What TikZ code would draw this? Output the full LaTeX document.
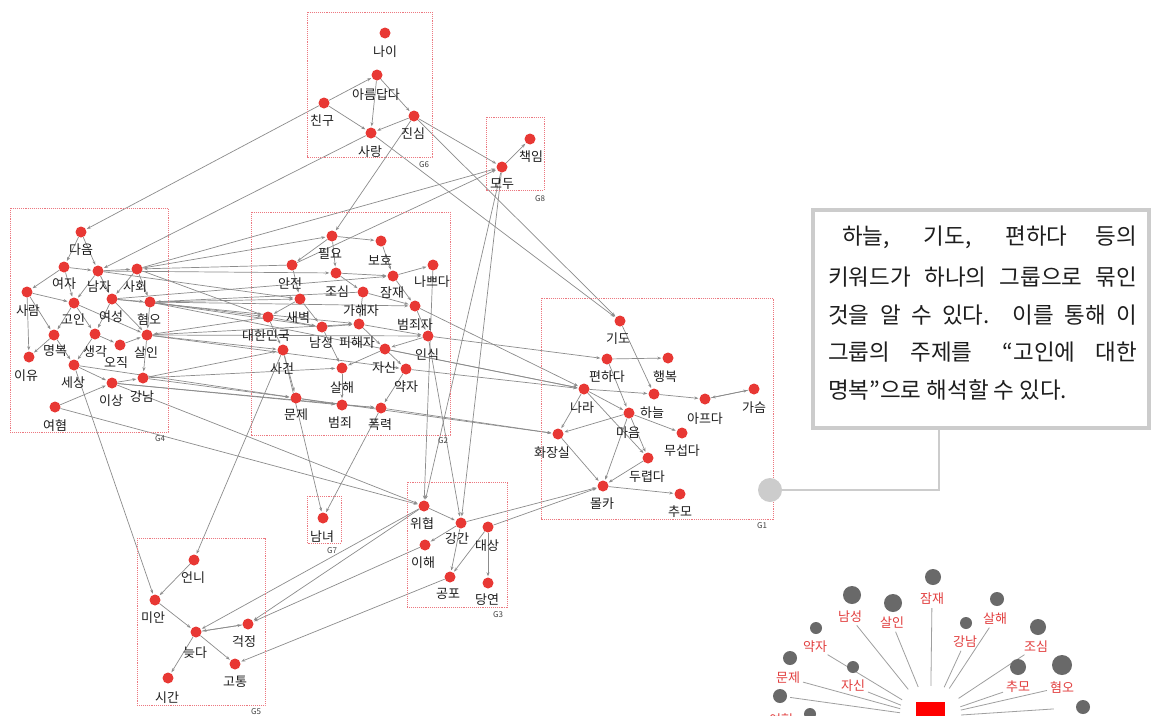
\documentclass[tikz,border=0pt]{standalone}
\usepackage{fontspec}
\setmainfont{Noto Sans CJK KR}
\usetikzlibrary{arrows.meta,calc}
\pgfdeclarelayer{bg}
\pgfdeclarelayer{paper}
\pgfsetlayers{paper,bg,main}
\definecolor{dotred}{RGB}{232,56,52}
\definecolor{boxred}{RGB}{236,120,128}
\definecolor{lnkgray}{RGB}{140,140,140}
\definecolor{fangray}{RGB}{105,105,105}
\definecolor{fanred}{RGB}{226,62,62}
\definecolor{framegray}{RGB}{204,204,204}
\definecolor{txtdark}{RGB}{30,30,30}
\tikzset{
  dotn/.style={circle, fill=dotred, minimum size=11pt, inner sep=0pt},
  lbl/.style={font=\fontsize{13}{15}\selectfont, inner sep=0pt, text=txtdark},
  gbox/.style={draw=boxred, densely dotted, line width=0.9pt},
  glab/.style={font=\fontsize{8}{9}\selectfont, text=black!75, inner sep=0pt},
  lnk/.style={draw=lnkgray, line width=0.7pt, -{Stealth[length=4pt,width=3pt]}, shorten >=1pt},
  fandot/.style={circle, fill=fangray, inner sep=0pt},
  fanlbl/.style={font=\fontsize{13}{15}\selectfont, text=fanred, inner sep=0pt},
  fanln/.style={draw=gray!75, line width=0.8pt, shorten <=3pt, shorten >=16pt},
  tline/.style={anchor=west, inner sep=0pt, text=txtdark, font=\fontsize{22.5}{26}\selectfont}
}
\newcommand\kw[6]{\node[dotn] (#1) at (#2,#3) {}; \node[lbl] (#1l) at (#5,#6) {#4};}
\newcommand\fanitem[7]{\node[fandot, minimum size=#4pt] (#1) at (#2,#3) {}; \node[fanlbl] (#1l) at (#6,#7) {#5};}
\begin{document}
\begin{tikzpicture}[x=1pt,y=-1pt]
\useasboundingbox (0,0) rectangle (1158,715);
\begin{pgfonlayer}{paper}
\fill[white] (0,0) rectangle (1158,715);
\end{pgfonlayer}

% ---------- group boxes ----------
\draw[gbox] (307,12) rectangle (432,157);   \node[glab] (g6) at (424,165) {G6};
\draw[gbox] (486,117) rectangle (544,190);  \node[glab] (g8) at (540,199) {G8};
\draw[gbox] (10,208) rectangle (168,432);   \node[glab] (g4) at (160,439) {G4};
\draw[gbox] (251,212) rectangle (450,435);  \node[glab] (g2) at (443,441) {G2};
\draw[gbox] (541,298) rectangle (773,519);  \node[glab] (g1) at (762,526) {G1};
\draw[gbox] (307,496) rectangle (341,543);  \node[glab] (g7) at (332,551) {G7};
\draw[gbox] (407,482) rectangle (507,607);  \node[glab] (g3) at (498,615) {G3};
\draw[gbox] (137,538) rectangle (265,705);  \node[glab] (g5) at (256,712) {G5};

% ---------- G6 ----------
\kw{nai}{385}{33}{나이}{385}{52}
\kw{areum}{377}{75}{아름답다}{376}{95}
\kw{chingu}{324}{103}{친구}{322}{121}
\kw{jinsim}{414}{116}{진심}{413}{134}
\kw{sarang}{371}{133}{사랑}{370}{152}
% ---------- G8 ----------
\kw{chaegim}{530}{139}{책임}{531}{157}
\kw{modu}{502}{167}{모두}{502}{184}
% ---------- G4 ----------
\kw{daeum}{81}{232}{다음}{81}{250}
\kw{yeoja}{64}{267}{여자}{64}{284}
\kw{namja}{98}{271}{남자}{99}{287}
\kw{sahoe}{137}{269}{사회}{135}{287}
\kw{saram}{27}{292}{사람}{28}{311}
\kw{goin}{74}{303}{고인}{73}{320}
\kw{yeoseong}{112}{299}{여성}{111}{317}
\kw{hyeomo}{150}{302}{혐오}{149}{319}
\kw{myeongbok}{54}{335}{명복}{55}{351}
\kw{saenggak}{95}{334}{생각}{95}{352}
\kw{ojik}{120}{345}{오직}{116}{363}
\kw{sarin}{147}{335}{살인}{146}{353}
\kw{iyu}{29}{357}{이유}{26}{376}
\kw{sesang}{74}{365}{세상}{73}{383}
\kw{isang}{112}{383}{이상}{111}{401}
\kw{gangnam}{143}{378}{강남}{142}{397}
\kw{yeohyeom}{55}{407}{여혐}{55}{426}
% ---------- G2 ----------
\kw{pilyo}{332}{236}{필요}{330}{254}
\kw{boho}{381}{241}{보호}{380}{260}
\kw{anjeon}{292}{265}{안전}{290}{283}
\kw{nappeuda}{433}{265}{나쁘다}{432}{282}
\kw{josim}{336}{273}{조심}{337}{292}
\kw{jamjae}{393}{276}{잠재}{392}{293}
\kw{gahaeja}{363}{292}{가해자}{361}{311}
\kw{saebyeok}{300}{299}{새벽}{298}{318}
\kw{beomjoeja}{415}{306}{범죄자}{415}{325}
\kw{daehan}{268}{317}{대한민국}{266}{336}
\kw{namseong}{322}{327}{남성}{321}{343}
\kw{pihaeja}{359}{324}{피해자}{357}{343}
\kw{insik}{428}{336}{인식}{427}{355}
\kw{jasin}{385}{349}{자신}{384}{368}
\kw{sageon}{283}{350}{사건}{282}{369}
\kw{salhae}{342}{368}{살해}{342}{388}
\kw{yakja}{406}{369}{약자}{406}{387}
\kw{munje}{296}{398}{문제}{296}{415}
\kw{beomjoe}{342}{405}{범죄}{340}{423}
\kw{pokryeok}{381}{408}{폭력}{380}{425}
% ---------- G1 ----------
\kw{gido}{620}{321}{기도}{618}{339}
\kw{pyeonhada}{607}{359}{편하다}{607}{377}
\kw{haengbok}{668}{358}{행복}{665}{377}
\kw{nara}{584}{389}{나라}{582}{408}
\kw{haneul}{654}{394}{하늘}{652}{413}
\kw{gaseum}{754}{389}{가슴}{754}{408}
\kw{apeuda}{705}{399}{아프다}{705}{419}
\kw{maeum}{629}{413}{마음}{628}{433}
\kw{hwajangsil}{558}{434}{화장실}{552}{453}
\kw{museopda}{682}{433}{무섭다}{682}{451}
\kw{duryeopda}{648}{458}{두렵다}{647}{477}
\kw{molka}{603}{486}{몰카}{602}{504}
\kw{chumo}{680}{494}{추모}{680}{512}
% ---------- G7 ----------
\kw{namnyeo}{323}{518}{남녀}{322}{537}
% ---------- G3 ----------
\kw{wihyeop}{424}{506}{위협}{422}{524}
\kw{gangan}{461}{523}{강간}{457}{539}
\kw{daesang}{488}{527}{대상}{487}{546}
\kw{ihae}{425}{545}{이해}{423}{563}
\kw{gongpo}{450}{577}{공포}{448}{594}
\kw{dangyeon}{488}{583}{당연}{487}{600}
% ---------- G5 ----------
\kw{eonni}{194}{560}{언니}{193}{578}
\kw{mian}{155}{600}{미안}{153}{618}
\kw{neujda}{196}{632}{늦다}{195}{653}
\kw{geokjeong}{248}{624}{걱정}{244}{642}
\kw{gotong}{235}{664}{고통}{235}{682}
\kw{sigan}{168}{678}{시간}{167}{698}

% ---------- connectors ----------
\begin{pgfonlayer}{bg}
\foreach \a/\b in {chingu/areum, chingu/sarang, areum/sarang, jinsim/sarang, areum/jinsim,%
 chingu/daeum, sarang/namja, jinsim/modu, jinsim/gido, sarang/gido, jinsim/pilyo,%
 modu/chaegim, sahoe/modu, anjeon/modu, modu/wihyeop, modu/gangan,%
 daeum/namja, daeum/yeoja, yeoja/namja, namja/sahoe, yeoja/goin, yeoja/saram,%
 namja/yeoseong, namja/goin, sahoe/hyeomo, sahoe/yeoseong, saram/iyu, saram/myeongbok,%
 goin/myeongbok, goin/saenggak, yeoseong/hyeomo, yeoseong/saenggak, yeoseong/sarin,%
 hyeomo/sarin, myeongbok/iyu, myeongbok/sesang, saenggak/sesang, saenggak/ojik,%
 ojik/sarin, sesang/isang, sarin/gangnam, isang/gangnam, yeohyeom/isang, goin/sarin, saram/goin,%
 sahoe/pilyo, anjeon/sahoe, sahoe/daehan, hyeomo/daehan, hyeomo/saebyeok, hyeomo/namseong,%
 gahaeja/hyeomo, hyeomo/beomjoeja, yeoseong/pihaeja, yeoseong/jamjae, sarin/sageon,%
 daehan/sarin, sarin/pihaeja, sarin/insik, gangnam/munje, gangnam/sageon, isang/beomjoe,%
 isang/pokryeok, sesang/munje, namja/saebyeok, namja/josim, hyeomo/nara, sarin/yakja,%
 gangnam/salhae,%
 sesang/mian, yeohyeom/wihyeop, isang/wihyeop,%
 pilyo/boho, pilyo/anjeon, pilyo/josim, anjeon/saebyeok, josim/gahaeja, josim/jamjae,%
 boho/jamjae, jamjae/nappeuda, jamjae/beomjoeja, gahaeja/pihaeja, gahaeja/beomjoeja,%
 saebyeok/namseong, saebyeok/daehan, daehan/sageon, daehan/namseong, namseong/pihaeja,%
 namseong/salhae, pihaeja/jasin, pihaeja/insik, beomjoeja/insik, jasin/yakja, insik/jasin,%
 jasin/salhae, sageon/munje, salhae/beomjoe, munje/beomjoe, beomjoe/pokryeok, yakja/pokryeok,%
 insik/pyeonhada, beomjoeja/nara, yakja/nara, jasin/nara, pokryeok/hwajangsil, munje/hwajangsil,%
 nappeuda/wihyeop, insik/gangan, sageon/namnyeo, pokryeok/namnyeo, sageon/eonni,%
 wihyeop/gangan, gangan/gongpo, daesang/gongpo, daesang/dangyeon, gangan/ihae,%
 daesang/molka, gangan/molka, wihyeop/neujda, wihyeop/geokjeong, ihae/geokjeong, gongpo/gotong,%
 eonni/mian, mian/neujda, neujda/geokjeong, geokjeong/neujda, neujda/gotong, neujda/sigan,%
 gido/haneul, pyeonhada/haengbok, nara/haneul, nara/maeum, pyeonhada/maeum, haneul/apeuda,%
 apeuda/gaseum, gaseum/apeuda, maeum/hwajangsil, maeum/museopda, maeum/molka,%
 maeum/duryeopda, nara/duryeopda, hwajangsil/molka, duryeopda/molka, molka/chumo, nara/hwajangsil}%
 \draw[lnk] (\a) -- (\b);
\end{pgfonlayer}

% ---------- callout ----------
\node[circle, fill=framegray, minimum size=24pt, inner sep=0pt] (pin) at (770,490) {};
\node[draw=framegray, line width=4pt, minimum width=336pt, minimum height=218pt, inner sep=0pt] (tbox) at (981,319) {};
\draw[framegray, line width=2pt] (pin.east) -| ($(tbox.south west)!0.375!(tbox.south east)$);
\node[tline] (t1) at (842,237) {\makebox[295pt][s]{하늘, 기도, 편하다 등의}};
\node[tline] (t2) at (828,277) {\makebox[309pt][s]{키워드가 하나의 그룹으로 묶인}};
\node[tline] (t3) at (828,315) {\makebox[309pt][s]{것을 알 수 있다. 이를 통해 이}};
\node[tline] (t4) at (828,352) {\makebox[309pt][s]{그룹의 주제를 \hspace{10pt}“고인에 대한}};
\node[tline] (t5) at (828,390) {명복”으로 해석할 수 있다.};

% ---------- fan ----------
\node[fill=red, minimum width=29pt, minimum height=30pt, inner sep=0pt] (hub) at (930.5,717) {};
\fanitem{fjam}{933}{577}{16}{잠재}{932}{599}
\fanitem{fnam}{852}{595}{18}{남성}{850}{617}
\fanitem{fsar}{893}{603}{18}{살인}{892}{623}
\fanitem{fsal}{997}{599}{14}{살해}{995}{619}
\fanitem{fgan}{966}{623}{12}{강남}{965}{642}
\fanitem{fyak}{816}{628}{12}{약자}{815}{647}
\fanitem{fjos}{1038}{627}{16}{조심}{1036}{647}
\fanitem{fmun}{790}{658}{14}{문제}{788}{678}
\fanitem{fjas}{853}{667}{12}{자신}{853}{686}
\fanitem{fchu}{1018}{667}{16}{추모}{1018}{687}
\fanitem{fhye}{1062}{665}{20}{혐오}{1062}{687}
\fanitem{fyeo}{780}{696}{14}{여혐}{781}{720}
\node[fandot, minimum size=12pt] (fx1) at (810,714) {};
\node[fandot, minimum size=14pt] (fx2) at (1083,707) {};
\begin{pgfonlayer}{bg}
\foreach \f in {fjam,fnam,fsar,fsal,fgan,fyak,fjos,fmun,fjas,fchu,fhye}
  \draw[fanln] (\f l) -- (hub);
\draw[fanln] (fyeo) -- (hub);
\draw[fanln, shorten <=22pt] (fx2) -- (hub);
\end{pgfonlayer}
\end{tikzpicture}
\end{document}
